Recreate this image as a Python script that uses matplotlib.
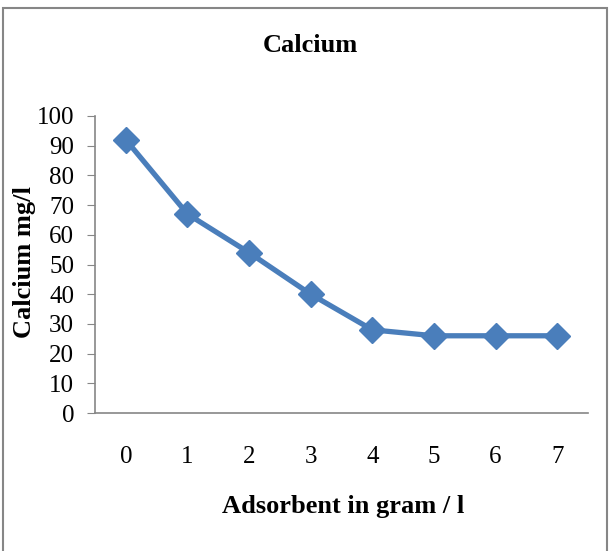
import matplotlib.pyplot as plt
from matplotlib.patches import Rectangle

plt.rcParams['font.family'] = 'Liberation Serif'

adsorbent = [0, 1, 2, 3, 4, 5, 6, 7]
calcium = [92, 67, 54, 40, 28, 26, 26, 26]
yticks = [0, 10, 20, 30, 40, 50, 60, 70, 80, 90, 100]

W, H = 612, 551
fig = plt.figure(figsize=(W / 100, H / 100), dpi=100)
ax = fig.add_axes([95 / W, 1 - 413 / H, (588 - 95) / W, (413 - 116) / H])

ax.plot(adsorbent, calcium, color='#4A7EBB', linewidth=3.8,
        marker='D', markersize=13, markerfacecolor='#4A7EBB', markeredgecolor='#4A7EBB')

ax.set_xlim(-0.5, 7.5)
ax.set_ylim(0, 100)
ax.set_yticks(yticks)
ax.set_xticks(adsorbent)
ax.tick_params(axis='y', labelsize=18, length=6, color='#868686', pad=9)
ax.tick_params(axis='x', labelsize=18, length=0, pad=24)

for side in ['top', 'right']:
    ax.spines[side].set_visible(False)
for side in ['left', 'bottom']:
    ax.spines[side].set_color('#868686')
    ax.spines[side].set_linewidth(1.2)

fig.text(310 / W, 1 - 45 / H, 'Calcium', ha='center', va='center', fontsize=19, fontweight='bold')
fig.text(343 / W, 1 - 507 / H, 'Adsorbent in gram / l', ha='center', va='center', fontsize=19, fontweight='bold')
fig.text(25 / W, 1 - 262 / H, 'Calcium mg/l', ha='center', va='center', rotation=90, fontsize=19, fontweight='bold')

# outer chart border
fig.patches.append(Rectangle((3 / W, -0.01), (607 - 3) / W, 1 - 8 / H + 0.01,
                             transform=fig.transFigure, fill=False,
                             edgecolor='#868686', linewidth=1.5))

fig.savefig('out.png', dpi=100)
